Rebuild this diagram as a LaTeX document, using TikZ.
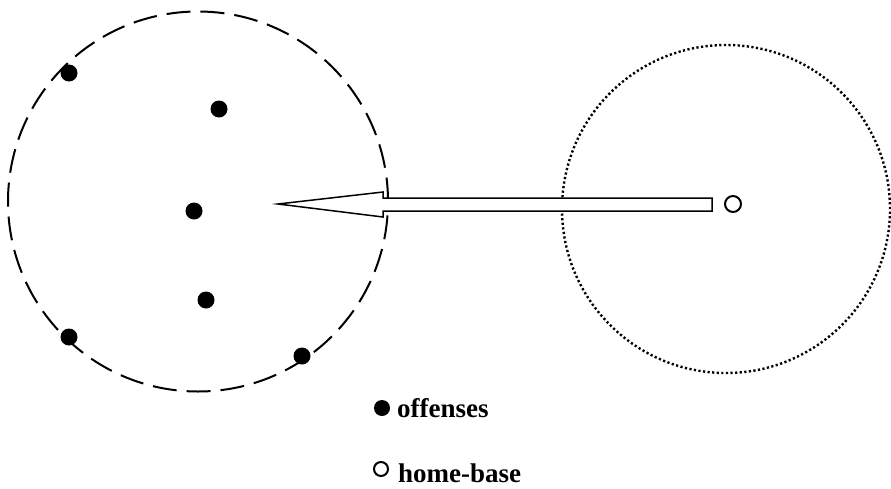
\documentclass[tikz,border=0pt]{standalone}
\usepackage{fontspec}
\setmainfont{Liberation Serif}
\usetikzlibrary{positioning}

\begin{document}
\begin{tikzpicture}[x=1pt,y=-1pt,
						offense/.style={circle,fill=black,inner sep=0pt,minimum size=17pt},
						base/.style={circle,draw=black,line width=2pt,inner sep=0pt,minimum size=16pt},
						keytext/.style={inner sep=0pt,anchor=base west,font=\bfseries\fontsize{27}{30}\selectfont}]
		\useasboundingbox (0,0) rectangle (891,488);

		\coordinate								(c1)	at (198,201.5);
		\coordinate								(c2)	at (726,209);
		\draw[line width=2pt,dash pattern=on 24pt off 10pt] (c1) circle [radius=190pt];
		\draw[line width=2.4pt,dash pattern=on 2.2pt off 2.4pt] (c2) circle [radius=164pt];

		\node[offense]	at (69,73)				(0)	{};
		\node[offense]	at (219,109)			(1)	{};
		\node[offense]	at (194,211)			(2)	{};
		\node[offense]	at (206,300)			(3)	{};
		\node[offense]	at (69,337)				(4)	{};
		\node[offense]	at (302,356)			(5)	{};

		\node[base]		at (733,204)			(h)	{};

		\draw[line width=1.5pt,fill=white] (278,204) -- (383,192) -- (383,198) -- (712,198)
			-- (712,211) -- (383,211) -- (383,217) -- cycle;

		\node[offense,minimum size=16pt]	at (382,408)	(k1)	{};
		\node[base,minimum size=14pt]		at (381,469)	(k2)	{};
		\node[keytext]	at (397,417)			(t1)	{offenses};
		\node[keytext]	at (398,482)			(t2)	{home-base};
	\end{tikzpicture}
\end{document}
